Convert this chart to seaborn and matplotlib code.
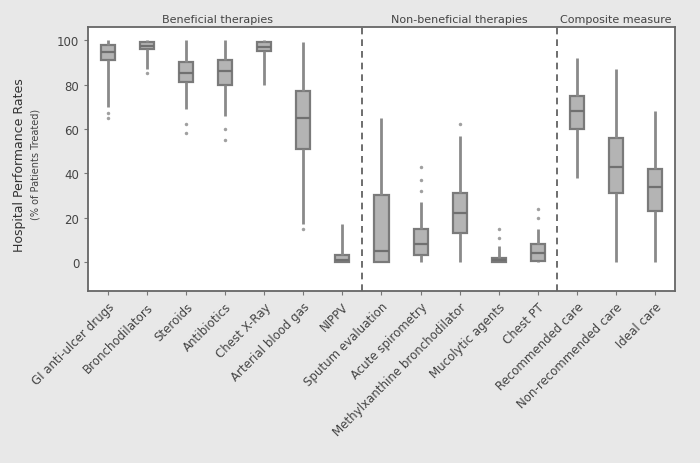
import numpy as np
import pandas as pd
import seaborn as sns
import matplotlib
import matplotlib.pyplot as plt

matplotlib.use('Agg')

# Data (percent of patients treated)
categories = ['GI anti-ulcer drugs', 'Bronchodilators', 'Steroids', 'Antibiotics',
              'Chest X-Ray', 'Arterial blood gas', 'NIPPV',
              'Sputum evaluation', 'Acute spirometry', 'Methylxanthine bronchodilator',
              'Mucolytic agents', 'Chest PT',
              'Recommended care', 'Non-recommended care', 'Ideal care']

# five-number summaries: whisker low, q1, median, q3, whisker high
whis_low = [70, 87, 69, 66, 80, 17, 0, 0, 0, 0, 0, 0, 38, 0, 0]
q1 = [91, 96, 81, 80, 95, 51, 0, 0, 3, 13, 0, 0.5, 60, 31, 23]
median = [94.5, 97.5, 85, 86, 97, 65, 1, 5, 8, 22, 1, 4, 68, 43, 34]
q3 = [98, 99, 90, 91, 99, 77, 3, 30, 15, 31, 2, 8, 75, 56, 42]
whis_high = [100, 100, 100, 100, 100, 99, 17, 65, 27, 57, 7, 15, 92, 87, 68]

# outlying hospitals drawn as dots
out_cat = ['GI anti-ulcer drugs', 'GI anti-ulcer drugs', 'Bronchodilators', 'Steroids',
           'Steroids', 'Antibiotics', 'Antibiotics', 'Arterial blood gas',
           'Acute spirometry', 'Acute spirometry', 'Acute spirometry',
           'Methylxanthine bronchodilator', 'Mucolytic agents', 'Mucolytic agents',
           'Chest PT', 'Chest PT']
out_val = [67, 65, 85, 62, 58, 60, 55, 15, 32, 37, 43, 62, 11, 15, 20, 24]

group_names = ['Beneficial therapies', 'Non-beneficial therapies', 'Composite measure']
group_x = [2.8, 9, 13]

rows = []
for i, c in enumerate(categories):
    for v in (whis_low[i], q1[i], median[i], q3[i], whis_high[i]):
        rows.append({'measure': c, 'rate': v})
df = pd.DataFrame(rows)
out_df = pd.DataFrame({'measure': out_cat, 'rate': out_val})

sns.set_style('white')
plt.rcParams['font.family'] = ['DejaVu Sans']

fig = plt.figure(figsize=(7, 4.64), dpi=100, facecolor='#e8e8e8')
ax = fig.add_axes([0.126, 0.371, 0.838, 0.569])

sns.boxplot(data=df, x='measure', y='rate', order=categories, whis=np.inf,
            width=0.36, color='#b4b4b4', linecolor='#7a7a7a', linewidth=1.6,
            showcaps=False, ax=ax,
            medianprops={'color': '#707070', 'linewidth': 1.6},
            whiskerprops={'color': '#8a8a8a', 'linewidth': 2})
sns.stripplot(data=out_df, x='measure', y='rate', order=categories, jitter=False,
              color='#a0a0a0', size=2.5, ax=ax)

for xv in (6.5, 11.5):
    ax.axvline(xv, color='#555555', linestyle=(0, (4, 3)), linewidth=1.2)

for name, gx in zip(group_names, group_x):
    ax.text(gx, 1.012, name, transform=ax.get_xaxis_transform(), ha='center',
            va='bottom', fontsize=8, color='#444444')

ax.set_xlim(-0.5, 14.5)
ax.set_ylim(-13, 106)
ax.set_yticks([0, 20, 40, 60, 80, 100])
ax.set_xlabel('')
ax.set_ylabel('')
ax.tick_params(axis='both', length=3, color='#777777', labelcolor='#444444', labelsize=8.5)
ax.tick_params(axis='both', direction='out', bottom=True, left=True)
plt.setp(ax.get_xticklabels(), rotation=45, ha='right', rotation_mode='anchor')
for s in ax.spines.values():
    s.set_color('#666666')
    s.set_linewidth(1.3)

fig.text(0.028, 0.645, 'Hospital Performance Rates', rotation=90, ha='center',
         va='center', fontsize=9, color='#333333')
fig.text(0.05, 0.645, '(% of Patients Treated)', rotation=90, ha='center',
         va='center', fontsize=7, color='#444444')

fig.savefig('out.png', dpi=100, facecolor=fig.get_facecolor())
